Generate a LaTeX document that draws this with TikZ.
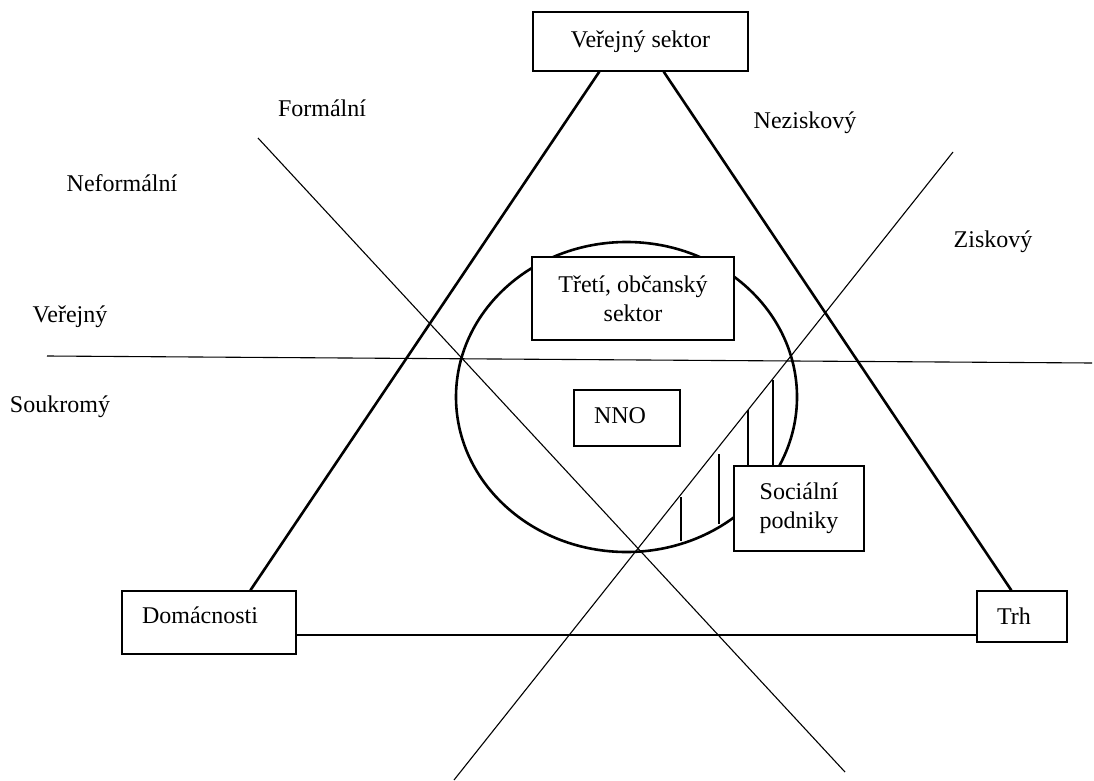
\documentclass[tikz,border=0pt]{standalone}
\usepackage{fontspec}
\setmainfont{Liberation Serif}
\newfontfamily\pismo{Liberation Serif}
\usetikzlibrary{calc,positioning}
\tikzset{
	krabice/.style={draw,fill=white,line width=1.3pt,inner sep=0pt,align=center,font=\pismo\fontsize{24}{29}\selectfont},
	lkrabice/.style={krabice,align=left,inner xsep=20pt},
	popis/.style={font=\pismo\fontsize{24}{29}\selectfont},
	tlusta/.style={line width=2.6pt},
	tenka/.style={line width=1.1pt}
}

\begin{document}
\begin{tikzpicture}[x=1pt,y=-1pt]
	\useasboundingbox (0,0) rectangle (1094,781);
	
	%Kruh
	\draw[tlusta] (626.5,397) ellipse [x radius=170.5pt, y radius=155pt];
	
	%Delici primky
	\draw[tenka] (47,356) -- (1092,363);
	\draw[tenka] (258,138) -- (845,772);
	\draw[tenka] (454,780) -- (953,152);
	
	%Srafovani
	\foreach \x/\a/\b in {681/497/541,719/454/524,748/410/466,773/380/466}
		\draw[line width=1.2pt] (\x,\a) -- (\x,\b);
	
	%Uzly
	\node[krabice,minimum width=215pt,minimum height=59pt] (VS) at (640.5,41.5) {Veřejný sektor};
	\node[lkrabice,text width=134pt,text depth=14pt,minimum height=63pt] (Dom) at (209,622.5) {Domácnosti};
	\node[lkrabice,text width=50pt,minimum height=51pt] (Trh) at (1022,616.5) {Trh};
	\node[krabice,minimum width=202pt,minimum height=83pt] (TOS) at (633,298.5) {Třetí, občanský\\sektor};
	\node[lkrabice,text width=66pt,text depth=5pt,minimum height=56pt] (NNO) at (627,418) {NNO};
	\node[krabice,minimum width=130pt,minimum height=85pt] (SP) at (799,508.5) {Sociální\\podniky};
	
	%Trojuhelnik
	\coordinate (zaklad) at (0,635);
	\draw[tlusta] ($(VS.south west)+(67,0)$) -- ($(Dom.north west)+(129,0)$);
	\draw[tlusta] ($(VS.south east)+(-85,0)$) -- ($(Trh.north west)+(35,0)$);
	\draw[tlusta] (Dom.east |- zaklad) -- (Trh.west |- zaklad);
	
	%Popisky
	\node[popis] (formalni) at (322,108) {Formální};
	\node[popis] (neformalni) at (122,183) {Neformální};
	\node[popis] (verejny) at (70,317) {Veřejný};
	\node[popis] (soukromy) at (60,407) {Soukromý};
	\node[popis] (neziskovy) at (805,123) {Neziskový};
	\node[popis] (ziskovy) at (993,242) {Ziskový};
	
\end{tikzpicture}
\end{document}
